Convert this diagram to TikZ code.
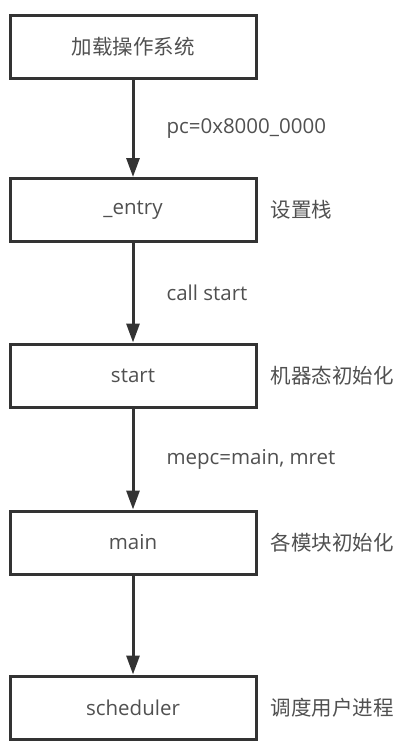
\documentclass[tikz,border=0pt]{standalone}
\usepackage{fontspec}
\setmainfont{Open Sans}
\newfontfamily\cjk{Noto Sans CJK SC}
\usepackage{tikz}
\usetikzlibrary{arrows.meta}
\usetikzlibrary{positioning}

\definecolor{linegray}{HTML}{333333}
\definecolor{textgray}{HTML}{505050}

\begin{document}
\begin{tikzpicture}[x=1pt, y=-1pt,
  every node/.style={font=\fontsize{20.5}{24}\selectfont, text=textgray},
  box/.style={draw=linegray, line width=3pt, minimum width=246pt, minimum height=63pt, inner sep=0pt},
  note/.style={inner sep=0pt, anchor=west},
  flow/.style={draw=linegray, line width=3pt, -{Triangle[length=19pt,width=13pt]}}]
\useasboundingbox (0,0) rectangle (402,748);
% boxes
\node[box] (load) at (133,46.5) {\cjk 加载操作系统};
\node[box] (entry) at (133,210) {\_entry};
\node[box] (start) at (133,375.5) {start};
\node[box] (main) at (133,542.5) {main};
\node[box] (sched) at (133,707.5) {scheduler};
% side notes
\node[note, right=13pt of entry] (nentry) {\cjk 设置栈};
\node[note, right=13pt of start] (nstart) {\cjk 机器态初始化};
\node[note, right=13pt of main] (nmain) {\cjk 各模块初始化};
\node[note, right=13pt of sched] (nsched) {\cjk 调度用户进程};
% arrows
\draw[flow] (load) -- (entry) node[midway, note, xshift=32pt] (pc) {pc=0x8000\_0000};
\draw[flow] (entry) -- (start) node[midway, note, xshift=32pt] (call) {call start};
\draw[flow] (start) -- (main) node[midway, note, xshift=32pt] (mepc) {mepc=main, mret};
\draw[flow] (main) -- (sched);
\end{tikzpicture}
\end{document}
